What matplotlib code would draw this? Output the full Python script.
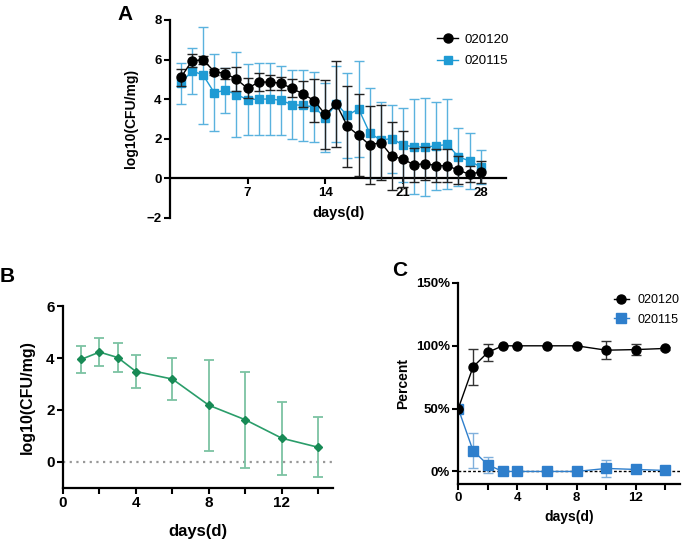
import matplotlib
matplotlib.use('Agg')
import matplotlib.pyplot as plt
import numpy as np

plt.rcParams['font.family'] = ['Liberation Sans', 'DejaVu Sans']

# Panel A data: days 1..28
days_a = list(range(1, 29))
a_120 = [5.1, 5.94, 5.98, 5.39, 5.29, 5.0, 4.54, 4.86, 4.86, 4.8, 4.54, 4.26, 3.92, 3.22, 3.74,
         2.62, 2.17, 1.68, 1.8, 1.11, 0.97, 0.67, 0.74, 0.63, 0.63, 0.4, 0.2, 0.32]
a_120_err = [0.43, 0.34, 0.22, 0.15, 0.27, 0.6, 0.5, 0.44, 0.38, 0.32, 0.46, 0.65, 1.1, 1.74, 2.17,
             2.03, 2.08, 1.95, 1.9, 1.72, 1.44, 0.87, 0.85, 0.83, 0.83, 0.7, 0.4, 0.55]
a_115 = [4.8, 5.43, 5.21, 4.32, 4.45, 4.23, 3.97, 4.0, 4.0, 3.94, 3.72, 3.68, 3.6, 3.05, 3.75,
         3.17, 3.51, 2.28, 1.93, 2.0, 1.68, 1.58, 1.58, 1.63, 1.71, 1.08, 0.87, 0.57]
a_115_err = [1.03, 1.15, 2.45, 1.95, 1.13, 2.13, 1.8, 1.8, 1.8, 1.75, 1.75, 1.8, 1.78, 1.75, 1.92,
             2.13, 2.43, 2.27, 1.9, 1.72, 1.86, 2.4, 2.48, 2.22, 2.27, 1.45, 1.4, 0.86]

# Panel B data
days_b = [1, 2, 3, 4, 6, 8, 10, 12, 14]
b_val = [3.95, 4.23, 4.02, 3.48, 3.19, 2.18, 1.62, 0.91, 0.56]
b_err = [0.51, 0.53, 0.56, 0.64, 0.8, 1.75, 1.86, 1.41, 1.15]

# Panel C data (fractions)
days_c = [0, 1, 2, 3, 4, 6, 8, 10, 12, 14]
c_120 = [0.5, 0.832, 0.948, 1.0, 1.0, 1.0, 1.0, 0.965, 0.97, 0.979]
c_120_err = [0, 0.14, 0.065, 0, 0, 0, 0, 0.073, 0.046, 0.01]
c_115 = [0.5, 0.165, 0.053, 0.0, 0.0, 0.0, 0.0, 0.024, 0.016, 0.008]
c_115_err = [0, 0.14, 0.065, 0, 0, 0, 0, 0.066, 0.03, 0.01]

labels = ['020120', '020115']

fig = plt.figure(figsize=(6.85, 5.39), dpi=100)


def style(ax, size):
    for s in ['top', 'right']:
        ax.spines[s].set_visible(False)
    for s in ['left', 'bottom']:
        ax.spines[s].set_linewidth(1.6)
    ax.tick_params(labelsize=size, width=1.5, length=4, pad=2)
    for t in ax.get_xticklabels() + ax.get_yticklabels():
        t.set_fontweight('bold')


# ---- Panel A ----
axA = fig.add_axes([0.248, 0.596, 0.491, 0.367])
eb115 = axA.errorbar(days_a, a_115, yerr=a_115_err, color='#1f9bd4', ecolor='#5ab2de', marker='s',
                     markersize=5.5, lw=1, elinewidth=1, capsize=3.5, capthick=1, zorder=2)
eb120 = axA.errorbar(days_a, a_120, yerr=a_120_err, color='black', ecolor='#222222', marker='o',
                     markersize=6.5, lw=1, elinewidth=1, capsize=3.5, capthick=1, zorder=3)
axA.set_xlim(0, 30.3)
axA.set_ylim(-2, 8)
axA.set_yticks([-2, 0, 2, 4, 6, 8])
axA.set_xticks([7, 14, 21, 28])
axA.spines['bottom'].set_position(('data', 0))
style(axA, 9.5)
axA.set_ylabel('log10(CFU/mg)', fontsize=10, fontweight='bold', labelpad=6)
axA.text(0.5, 0.025, 'days(d)', transform=axA.transAxes, ha='center', va='center',
         fontsize=10.5, fontweight='bold')
axA.legend([eb120[0], eb115[0]], labels, loc='upper left', bbox_to_anchor=(0.795, 0.93),
           frameon=False, fontsize=9.5, handlelength=1.6, handletextpad=0.5, labelspacing=0.7,
           borderpad=0, borderaxespad=0)
fig.text(0.172, 0.99, 'A', fontsize=15, fontweight='bold', va='top')

# ---- Panel B ----
axB = fig.add_axes([0.092, 0.095, 0.394, 0.337])
axB.axhline(0, color='#999999', lw=1.6, ls=(0, (1, 2)), zorder=1)
axB.errorbar(days_b, b_val, yerr=b_err, color='#2a9d6a', ecolor='#7cc3a3', marker='D',
             markersize=4.5, markerfacecolor='#178a55', markeredgecolor='#178a55',
             lw=1.2, elinewidth=1.3, capsize=3.5, capthick=1.3, zorder=3)
axB.set_xlim(0, 14.8)
axB.set_ylim(-1, 6)
axB.set_yticks([0, 2, 4, 6])
axB.set_xticks(range(0, 15, 2))
axB.set_xticklabels([str(v) if v % 4 == 0 else '' for v in range(0, 15, 2)])
style(axB, 11)
axB.set_ylabel('log10(CFU/mg)', fontsize=11.5, fontweight='bold', labelpad=8)
axB.set_xlabel('days(d)', fontsize=12, fontweight='bold', labelpad=10)
fig.text(0.0, 0.505, 'B', fontsize=15, fontweight='bold', va='top')

# ---- Panel C ----
axC = fig.add_axes([0.669, 0.102, 0.324, 0.373])
axC.axhline(0, color='black', lw=1, ls=(0, (2, 1.5)), zorder=1)
eC115 = axC.errorbar(days_c, c_115, yerr=c_115_err, color='#2f7fcc', ecolor='#80b0dc', marker='s',
                     markersize=6.5, lw=1, elinewidth=1, capsize=3.5, capthick=1, zorder=2)
eC120 = axC.errorbar(days_c, c_120, yerr=c_120_err, color='black', ecolor='#333333', marker='o',
                     markersize=6.5, lw=1, elinewidth=1, capsize=3.5, capthick=1, zorder=3)
axC.set_xlim(0, 15)
axC.set_ylim(-0.1, 1.5)
axC.set_yticks([0, 0.5, 1.0, 1.5])
axC.set_yticklabels(['0%', '50%', '100%', '150%'])
axC.set_xticks(range(0, 15, 2))
axC.set_xticklabels([str(v) if v % 4 == 0 else '' for v in range(0, 15, 2)])
style(axC, 9.5)
axC.set_ylabel('Percent', fontsize=10, fontweight='bold')
axC.set_xlabel('days(d)', fontsize=10, fontweight='bold')
axC.legend([eC120[0], eC115[0]], labels, loc='upper left', bbox_to_anchor=(0.70, 0.945),
           frameon=False, fontsize=9, handlelength=1.2, handletextpad=0.7, labelspacing=0.6,
           borderpad=0, borderaxespad=0)
fig.text(0.573, 0.515, 'C', fontsize=15, fontweight='bold', va='top')

fig.savefig('out.png', dpi=100)
